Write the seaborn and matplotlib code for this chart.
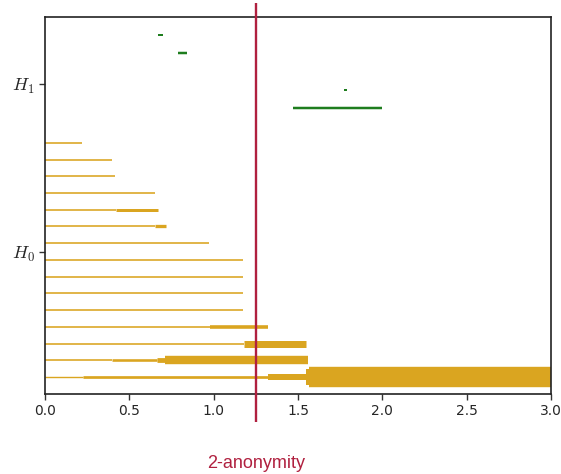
import matplotlib
matplotlib.use("Agg")
import matplotlib.pyplot as plt
import seaborn as sns
import pandas as pd

# ---- data: persistence barcode segments (row, birth-part start, end, thickness) ----
h0_rows   = [14, 13, 12, 11, 10, 10, 9, 9, 8, 7, 6, 5, 4, 3, 3, 2, 2,
             1, 1, 1, 1, 0, 0, 0, 0, 0]
h0_start  = [0, 0, 0, 0, 0, 0.419, 0, 0.652, 0, 0, 0, 0, 0, 0, 0.978, 0, 1.18,
             0, 0.40, 0.666, 0.713, 0, 0.223, 1.32, 1.545, 1.566]
h0_end    = [0.22, 0.395, 0.417, 0.652, 0.419, 0.668, 0.652, 0.717, 0.972, 1.175,
             1.175, 1.175, 1.175, 0.978, 1.32, 1.18, 1.547,
             0.40, 0.666, 0.713, 1.56, 0.223, 1.32, 1.545, 1.566, 3.0]
h0_weight = [1.6, 1.6, 1.6, 1.6, 1.6, 3, 1.6, 3.3, 1.6, 1.6, 1.6, 1.6, 1.6, 1.6, 3.6,
             1.6, 7, 1.6, 2.6, 4.8, 8.4, 1.4, 2.7, 6, 16, 20.4]

h1_rows   = [20.45, 19.35, 17.15, 16.1]
h1_start  = [0.67, 0.79, 1.77, 1.47]
h1_end    = [0.70, 0.84, 1.79, 2.0]
h1_weight = [2, 2.5, 2, 2.5]

ytick_pos = [7.5, 17.5]
ytick_labels = [r"$H_0$", r"$H_1$"]
xticks = [0.0, 0.5, 1.0, 1.5, 2.0, 2.5, 3.0]
threshold = 1.25
threshold_label = "2-anonymity"

# ---- build long table ----
recs = []
seg = 0
for grp, rows, s, e, w in [("H0", h0_rows, h0_start, h0_end, h0_weight),
                           ("H1", h1_rows, h1_start, h1_end, h1_weight)]:
    for r, a, b, ww in zip(rows, s, e, w):
        recs.append(dict(seg=seg, grp=grp, x=a, y=r, w=ww))
        recs.append(dict(seg=seg, grp=grp, x=b, y=r, w=ww))
        seg += 1
df = pd.DataFrame(recs)

sns.set_style("white")
plt.rcParams["lines.solid_capstyle"] = "butt"
plt.rcParams["mathtext.fontset"] = "cm"

fig = plt.figure(figsize=(5.61, 4.74), dpi=100)
ax = fig.add_axes([45/561, 80/474, 506/561, 377/474])

sizes = {w: w * 0.72 for w in df["w"].unique()}
sns.lineplot(data=df, x="x", y="y", units="seg", hue="grp", size="w",
             sizes=sizes, palette={"H0": "#DAA520", "H1": "#1E7D1E"},
             estimator=None, sort=False, legend=False, ax=ax)

ax.set_xlim(0, 3.0)
ax.set_ylim(-1.016, 21.52)
ax.set_xticks(xticks)
ax.set_xticklabels([f"{t:.1f}" for t in xticks], fontsize=10)
ax.set_yticks(ytick_pos)
ax.set_yticklabels(ytick_labels, fontsize=13)
ax.set_xlabel("")
ax.set_ylabel("")
ax.tick_params(axis="both", which="both", length=4, width=1, left=True, bottom=True,
               color="#333333")
for sp in ax.spines.values():
    sp.set_color("#222222")
    sp.set_linewidth(1.2)

red = "#B0203F"
trans = ax.get_xaxis_transform()
ax.plot([threshold, threshold], [-0.074, 1.037], color=red, lw=1.7,
        transform=trans, clip_on=False, zorder=5)
ax.text(threshold, -0.185, threshold_label, transform=trans, ha="center", va="center",
        color=red, fontsize=13, family=["Liberation Sans", "DejaVu Sans"])

fig.savefig("out.png", dpi=100)
